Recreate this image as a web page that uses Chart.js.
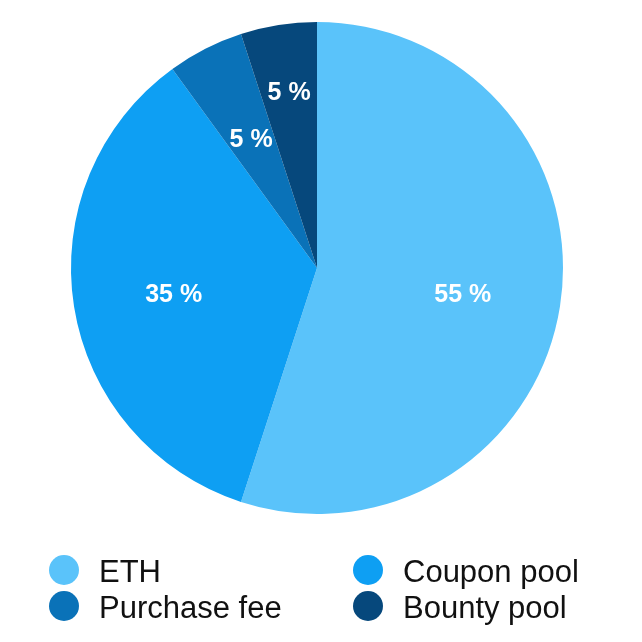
<!DOCTYPE html>
<html>
<head>
<meta charset="utf-8">
<script src="https://cdn.jsdelivr.net/npm/chart.js@4/dist/chart.umd.min.js"></script>
<style>
html,body{margin:0;padding:0;background:#fff;}
#wrap{position:relative;width:642px;height:642px;}
</style>
</head>
<body>
<div id="wrap"><canvas id="c" width="642" height="642"></canvas></div>
<script>
const categories = ['ETH', 'Coupon pool', 'Purchase fee', 'Bounty pool'];
const values = [55, 35, 5, 5];
const colors = ['#5AC3FA', '#0E9FF3', '#0A72B8', '#06487C'];
const labelRadius = [0.6, 0.59, 0.59, 0.725];
const labelShiftY = [3, 3, 0, 0];

const sliceLabels = {
  id: 'sliceLabels',
  afterDatasetsDraw(chart) {
    const ctx = chart.ctx;
    const meta = chart.getDatasetMeta(0);
    ctx.save();
    ctx.fillStyle = '#ffffff';
    ctx.font = 'bold 25px "Liberation Sans", Arial, sans-serif';
    ctx.textAlign = 'center';
    ctx.textBaseline = 'middle';
    meta.data.forEach((arc, i) => {
      const p = arc.getProps(['x', 'y', 'startAngle', 'endAngle', 'outerRadius'], true);
      const mid = (p.startAngle + p.endAngle) / 2;
      const r = p.outerRadius * labelRadius[i];
      ctx.fillText(values[i] + ' %', p.x + Math.cos(mid) * r, p.y + Math.sin(mid) * r + 1 + labelShiftY[i]);
    });
    ctx.restore();
  }
};

const gridLegend = {
  id: 'gridLegend',
  afterDraw(chart) {
    const ctx = chart.ctx;
    ctx.save();
    ctx.font = '31px "Liberation Sans", Arial, sans-serif';
    ctx.textAlign = 'left';
    ctx.textBaseline = 'alphabetic';
    const colX = [64, 368];
    const rowY = [570, 606];
    categories.forEach((lab, i) => {
      const cx = colX[i % 2], cy = rowY[Math.floor(i / 2)];
      ctx.fillStyle = colors[i];
      ctx.beginPath();
      ctx.arc(cx, cy, 15, 0, Math.PI * 2);
      ctx.fill();
      ctx.fillStyle = '#111111';
      ctx.fillText(lab, cx + 35, cy + 12);
    });
    ctx.restore();
  }
};

new Chart(document.getElementById('c'), {
  type: 'pie',
  data: {
    labels: categories,
    datasets: [{
      data: values,
      backgroundColor: colors,
      borderWidth: 0
    }]
  },
  options: {
    responsive: false,
    animation: false,
    layout: { padding: { top: 22, left: 71, right: 79, bottom: 128 } },
    plugins: {
      legend: { display: false },
      tooltip: { enabled: false }
    }
  },
  plugins: [sliceLabels, gridLegend]
});
</script>
</body>
</html>
